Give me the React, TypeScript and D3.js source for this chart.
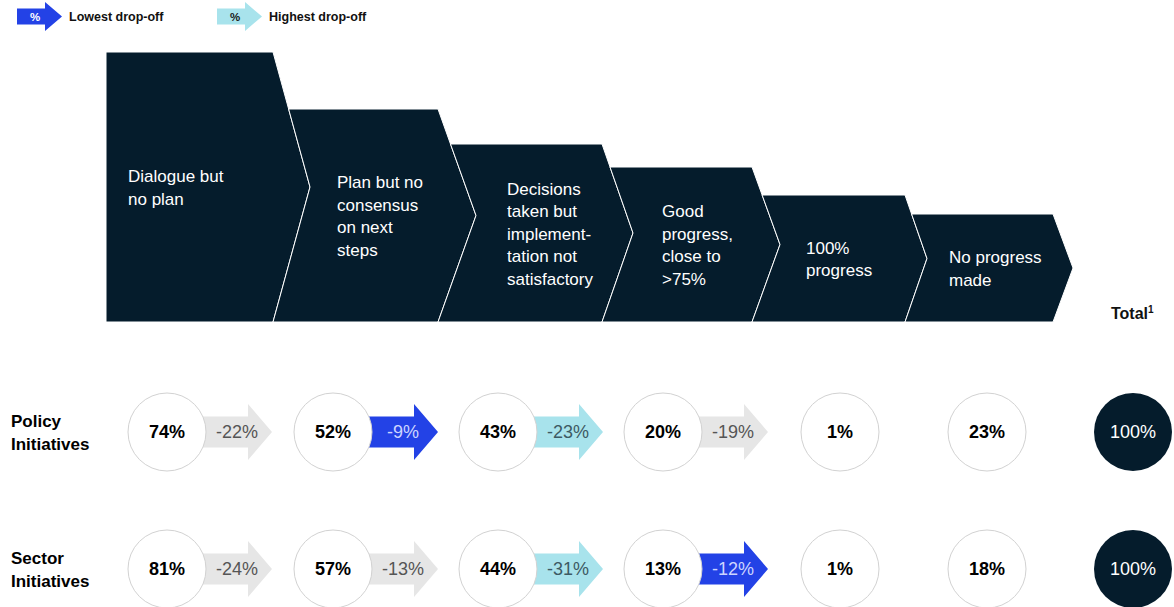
import React from "react";
import * as d3 from "d3";

// ---------- DATA ----------
const stageLabels: string[][] = [
  ["Dialogue but", "no plan"],
  ["Plan but no", "consensus", "on next", "steps"],
  ["Decisions", "taken but", "implement-", "tation not", "satisfactory"],
  ["Good", "progress,", "close to", ">75%"],
  ["100%", "progress"],
  ["No progress", "made"],
];
const columns = ["s1", "s2", "s3", "s4", "s5", "s6", "total"];
const rowNames: string[][] = [
  ["Policy", "Initiatives"],
  ["Sector", "Initiatives"],
];
const policyValues = [74, 52, 43, 20, 1, 23];
const policyDrops = [-22, -9, -23, -19];
const sectorValues = [81, 57, 44, 13, 1, 18];
const sectorDrops = [-24, -13, -31, -12];
const totals = [100, 100];
const legendItems = [
  { key: "lowest", label: "Lowest drop-off" },
  { key: "highest", label: "Highest drop-off" },
];

// ---------- LAYOUT ----------
const W = 1174;
const H = 607;
const FONT = "'Liberation Sans', Arial, Helvetica, sans-serif";
const NAVY = "#051c2c";
const BLUE = "#2342e6";
const CYAN = "#a8e3ec";
const GRAY = "#e6e6e6";

const chevBottom = 322;
const chevLeft = 106;
const chevRightX = d3.scaleOrdinal<number, number>().domain(d3.range(6)).range([273, 438, 602, 752, 905, 1053]);
const chevTopY = d3.scaleOrdinal<number, number>().domain(d3.range(6)).range([52, 109, 144, 167, 195, 214]);
const chevTipX = d3.scaleOrdinal<number, number>().domain(d3.range(6)).range([310, 476, 633, 780, 927, 1073]);
const chevTextX = d3.scaleOrdinal<number, number>().domain(d3.range(6)).range([128, 337, 507, 662, 806, 949]);

const colX = d3.scaleOrdinal<string, number>().domain(columns).range([167, 333, 498, 663, 840, 987, 1133]);
const rowY = d3.scaleOrdinal<number, number>().domain([0, 1]).range([432, 569]);
const R = 39;
const ARROW_LEN = 66;

function chevronPath(i: number): string {
  const top = chevTopY(i);
  const mid = (top + chevBottom) / 2;
  const rx = chevRightX(i);
  const tx = chevTipX(i);
  const p = d3.path();
  if (i === 0) {
    p.moveTo(chevLeft, top);
  } else {
    const pt = chevTopY(i - 1);
    const pm = (pt + chevBottom) / 2;
    const prx = chevRightX(i - 1);
    const ptx = chevTipX(i - 1);
    const sx = prx + ((ptx - prx) * (top - pt)) / (pm - pt);
    p.moveTo(sx, top);
  }
  p.lineTo(rx, top);
  p.lineTo(tx, mid);
  p.lineTo(rx, chevBottom);
  if (i === 0) {
    p.lineTo(chevLeft, chevBottom);
  } else {
    const pt = chevTopY(i - 1);
    const pm = (pt + chevBottom) / 2;
    const prx = chevRightX(i - 1);
    const ptx = chevTipX(i - 1);
    p.lineTo(prx, chevBottom);
    p.lineTo(ptx, pm);
  }
  p.closePath();
  return p.toString();
}

function arrowPath(x0: number, x1: number, cy: number, bodyH: number, headH: number, headL: number): string {
  const p = d3.path();
  p.moveTo(x0, cy - bodyH / 2);
  p.lineTo(x1 - headL, cy - bodyH / 2);
  p.lineTo(x1 - headL, cy - headH / 2);
  p.lineTo(x1, cy);
  p.lineTo(x1 - headL, cy + headH / 2);
  p.lineTo(x1 - headL, cy + bodyH / 2);
  p.lineTo(x0, cy + bodyH / 2);
  p.closePath();
  return p.toString();
}

function Row({ idx, values, drops, total }: { idx: number; values: number[]; drops: number[]; total: number }) {
  const cy = rowY(idx);
  const absDrops = drops.map((d) => Math.abs(d));
  const lo = d3.min(absDrops)!;
  const hi = d3.max(absDrops)!;
  const fmt = (v: number) => `${v}%`;
  return (
    <g>
      {rowNames[idx].map((t, k) => (
        <text key={k} x={11} y={cy - 5 + k * 23} fontFamily={FONT} fontSize={17} fontWeight={700} fill="#000">
          {t}
        </text>
      ))}
      {drops.map((d, i) => {
        const a = Math.abs(d);
        const kind = a === lo ? "lowest" : a === hi ? "highest" : "neutral";
        const fill = kind === "lowest" ? BLUE : kind === "highest" ? CYAN : GRAY;
        const tcol = kind === "lowest" ? "#cdd5ff" : kind === "highest" ? "#3d5a63" : "#555";
        const x0 = colX(columns[i]);
        const x1 = x0 + R + ARROW_LEN;
        const tx = (x0 + R + x1) / 2 - 2;
        return (
          <g key={i}>
            <path d={arrowPath(x0, x1, cy, 31, 56, 24)} fill={fill} />
            <text x={tx} y={cy} textAnchor="middle" dominantBaseline="central" fontFamily={FONT} fontSize={18} fill={tcol}>
              {d}%
            </text>
          </g>
        );
      })}
      {values.map((v, i) => (
        <g key={i}>
          <circle cx={colX(columns[i])} cy={cy} r={R} fill="#fff" stroke="#d2d2d2" strokeWidth={1} />
          <text x={colX(columns[i])} y={cy} textAnchor="middle" dominantBaseline="central" fontFamily={FONT} fontSize={18} fontWeight={700} fill="#000">
            {fmt(v)}
          </text>
        </g>
      ))}
      <circle cx={colX("total")} cy={cy} r={R} fill={NAVY} />
      <text x={colX("total")} y={cy} textAnchor="middle" dominantBaseline="central" fontFamily={FONT} fontSize={18} fill="#fff">
        {fmt(total)}
      </text>
    </g>
  );
}

export default function App() {
  return (
    <svg width={W} height={H} style={{ position: "absolute", left: 0, top: 0, display: "block", background: "#fff" }}>
      {/* legend */}
      {legendItems.map((it, i) => {
        const x0 = i === 0 ? 17 : 217;
        const fill = it.key === "lowest" ? BLUE : CYAN;
        return (
          <g key={it.key}>
            <path d={arrowPath(x0, x0 + 45, 16.5, 16, 29, 17)} fill={fill} />
            <text x={x0 + 18} y={17} textAnchor="middle" dominantBaseline="central" fontFamily={FONT} fontSize={11.5} fontWeight={700} fill={it.key === "lowest" ? "#fff" : "#1a1a1a"}>
              %
            </text>
            <text x={x0 + 52} y={17} dominantBaseline="central" fontFamily={FONT} fontSize={12.5} fontWeight={700} fill="#111">
              {it.label}
            </text>
          </g>
        );
      })}
      {/* chevrons */}
      {stageLabels.map((lines, i) => {
        const top = chevTopY(i);
        const mid = (top + chevBottom) / 2;
        const lh = 22.5;
        const startY = mid + 1 - ((lines.length - 1) * lh) / 2;
        return (
          <g key={i}>
            <path d={chevronPath(i)} fill={NAVY} stroke="#fff" strokeWidth={1} strokeLinejoin="miter" />
            {lines.map((t, k) => (
              <text key={k} x={chevTextX(i)} y={startY + k * lh} dominantBaseline="central" fontFamily={FONT} fontSize={17} fill="#fff">
                {t}
              </text>
            ))}
          </g>
        );
      })}
      <text x={1111} y={319} fontFamily={FONT} fontSize={16} fontWeight={700} fill="#111">
        Total
        <tspan fontSize={10} dy={-6}>1</tspan>
      </text>
      <Row idx={0} values={policyValues} drops={policyDrops} total={totals[0]} />
      <Row idx={1} values={sectorValues} drops={sectorDrops} total={totals[1]} />
    </svg>
  );
}
